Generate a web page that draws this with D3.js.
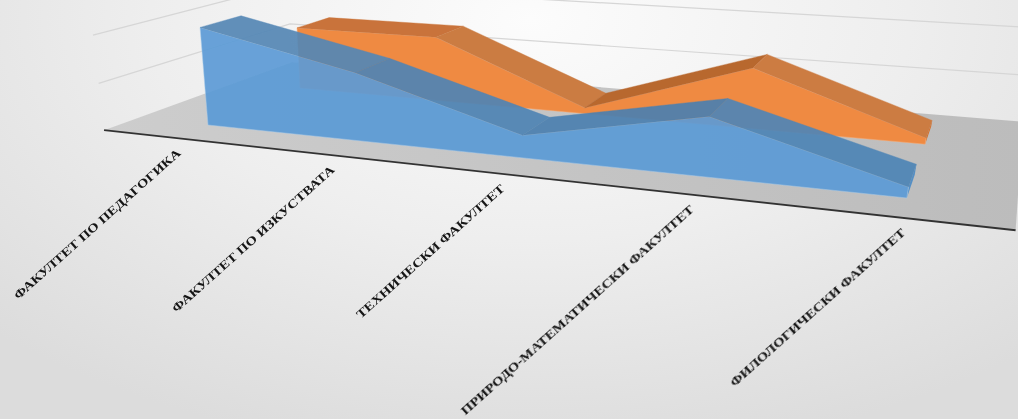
<!DOCTYPE html>
<html>
<head>
<meta charset="utf-8">
<script src="https://cdn.jsdelivr.net/npm/d3@7"></script>
<style>
  html, body { margin: 0; padding: 0; background: #e6e6e6; overflow: hidden; }
  svg { display: block; }
</style>
</head>
<body>
<svg id="chart"></svg>
<script>
const categories = [
    'ФАКУЛТЕТ ПО ПЕДАГОГИКА',
    'ФАКУЛТЕТ ПО ИЗКУСТВАТА',
    'ТЕХНИЧЕСКИ ФАКУЛТЕТ',
    'ПРИРОДО-МАТЕМАТИЧЕСКИ ФАКУЛТЕТ',
    'ФИЛОЛОГИЧЕСКИ ФАКУЛТЕТ'
];
const frontSeries = [20.8, 14, 4.5, 11.4, 2];
const backSeries = [14.4, 14.5, 1.3, 12.8, 1.3];
const valueTicks = [10, 20];

const width = 1018, height = 419;

// the chart is a 3d area chart, so every point goes category/depth/value -> screen
const catScale = d3.scalePoint().domain(categories).range([0, 4]);
const valueScale = d3.scaleLinear().domain([0, 10]).range([0, -0.0153]);

function project(u, d, value) {
    const k = valueScale(value);
    const w = 1 - 0.0461 * u + 0.1233 * d + k;
    return [
        (208 + 132.9 * u + 129 * d + 450 * k) / w,
        (125 + 9.12 * u - 26.1 * d + 3095 * k) / w
    ];
}

const floorRange = { u0: -0.5, u1: 4.5, d0: -0.302, d1: 1.69 };
const line = d3.line();
const closed = pts => line(pts) + 'Z';

const svg = d3.select('#chart').attr('width', width).attr('height', height);
const defs = svg.append('defs');

const bg = defs.append('radialGradient').attr('id', 'bg')
    .attr('gradientUnits', 'userSpaceOnUse')
    .attr('cx', 0).attr('cy', 0).attr('r', 1)
    .attr('gradientTransform', 'translate(530,20) scale(760,440)');
bg.append('stop').attr('offset', 0).attr('stop-color', '#fcfcfc');
bg.append('stop').attr('offset', 0.5).attr('stop-color', '#eeeeee');
bg.append('stop').attr('offset', 1).attr('stop-color', '#dcdcdc');

const floorFill = defs.append('linearGradient').attr('id', 'floorFill');
floorFill.append('stop').attr('offset', 0).attr('stop-color', '#cdcdcd');
floorFill.append('stop').attr('offset', 1).attr('stop-color', '#bcbcbc');

defs.append('filter').attr('id', 'soft')
    .append('feGaussianBlur').attr('stdDeviation', 0.7);

svg.append('rect').attr('width', width).attr('height', height).attr('fill', 'url(#bg)');

const plot = svg.append('g').attr('filter', 'url(#soft)');

// gridlines on side wall and back wall
plot.selectAll('.grid')
    .data(valueTicks)
    .join('path')
    .attr('class', 'grid')
    .attr('d', v => line([
        project(floorRange.u0, floorRange.d0, v),
        project(floorRange.u0, floorRange.d1, v),
        project(floorRange.u1, floorRange.d1, v)
    ]))
    .attr('fill', 'none')
    .attr('stroke', '#d6d6d6')
    .attr('stroke-width', 1.2);

// floor
plot.append('path')
    .attr('d', closed([
        project(floorRange.u0, floorRange.d0, 0),
        project(floorRange.u1, floorRange.d0, 0),
        project(floorRange.u1, floorRange.d1, 0),
        project(floorRange.u0, floorRange.d1, 0)
    ]))
    .attr('fill', 'url(#floorFill)');

const series = [
    {
        name: 'back', values: backSeries, d0: 1, d1: 1.4, opacity: 1,
        front: '#ef8a43', end: '#d2702e',
        top: ['#c9733a', '#cb7c43', '#b8682f', '#cc7c43'], edge: '#f6b17f'
    },
    {
        name: 'front', values: frontSeries, d0: 0, d1: 0.4, opacity: 0.92,
        front: '#5c9bd6', end: '#4c8cc6',
        top: ['#5487b5', '#4f84b4', '#4c80b0', '#4f85b6'], edge: '#a9cbe8'
    }
];

series.forEach(s => {
    const g = plot.append('g').attr('opacity', s.opacity);
    const last = categories.length - 1;
    const uOf = i => catScale(categories[i]);

    // end face
    g.append('path')
        .attr('d', closed([
            project(uOf(last), s.d0, 0),
            project(uOf(last), s.d0, s.values[last]),
            project(uOf(last), s.d1, s.values[last]),
            project(uOf(last), s.d1, 0)
        ]))
        .attr('fill', s.end);

    // front face
    g.append('path')
        .attr('d', closed([
            project(uOf(0), s.d0, 0),
            ...s.values.map((v, i) => project(uOf(i), s.d0, v)),
            project(uOf(last), s.d0, 0)
        ]))
        .attr('fill', s.front)
        .attr('stroke', s.edge)
        .attr('stroke-width', 0.5);

    // top ribbon, one piece for each segment
    g.selectAll('.ribbon')
        .data(s.values.slice(0, -1))
        .join('path')
        .attr('class', 'ribbon')
        .attr('d', (v, i) => closed([
            project(uOf(i), s.d0, v),
            project(uOf(i + 1), s.d0, s.values[i + 1]),
            project(uOf(i + 1), s.d1, s.values[i + 1]),
            project(uOf(i), s.d1, v)
        ]))
        .attr('fill', (v, i) => s.top[i])
        .attr('stroke', (v, i) => s.top[i])
        .attr('stroke-width', 0.4);
});

// category axis
plot.append('path')
    .attr('d', line([
        project(floorRange.u0, floorRange.d0, 0),
        project(floorRange.u1, floorRange.d0, 0)
    ]))
    .attr('stroke', '#333333')
    .attr('stroke-width', 1.8)
    .attr('fill', 'none');

const labels = plot.append('g');
labels.selectAll('text')
    .data(categories)
    .join('text')
    .attr('transform', c => {
        const p = project(catScale(c), floorRange.d0, 0);
        return `translate(${p[0] + 4},${p[1] + 14}) rotate(-41.8) scale(1.24,1)`;
    })
    .attr('text-anchor', 'end')
    .attr('dominant-baseline', 'middle')
    .attr('font-family', '"Liberation Serif", serif')
    .attr('font-weight', 'bold')
    .attr('font-size', 12)
    .attr('fill', '#141414')
    .text(c => c);
</script>
</body>
</html>
